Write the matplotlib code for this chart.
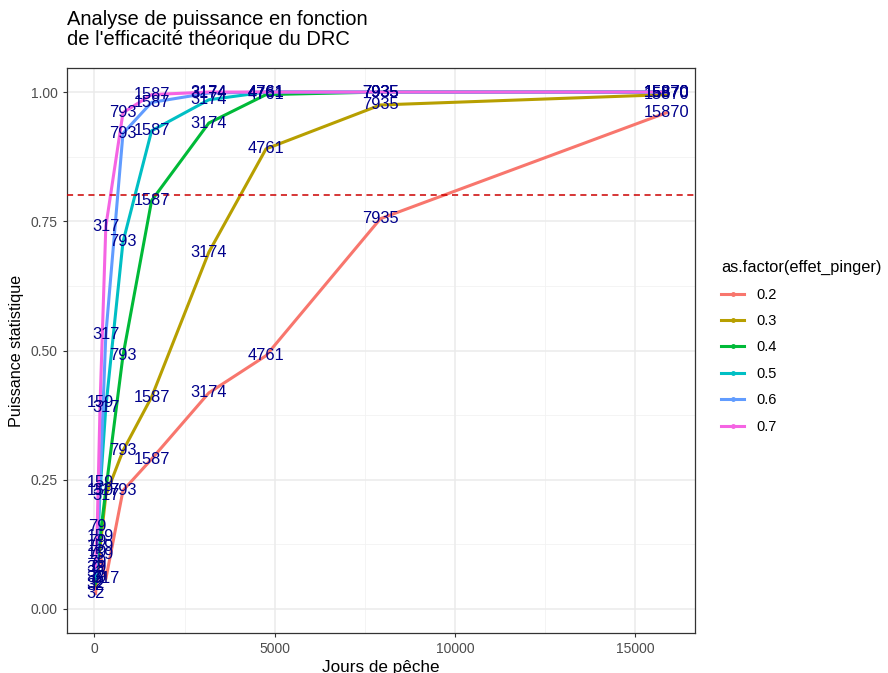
import matplotlib
matplotlib.use("Agg")
import matplotlib.pyplot as plt

# =========================================================
# DATA
# =========================================================

jours = [32, 79, 159, 317, 793, 1587, 3174, 4761, 7935, 15870]

effets = ["0.2", "0.3", "0.4", "0.5", "0.6", "0.7"]

puissance_02 = [0.030, 0.060, 0.105, 0.058, 0.229, 0.290, 0.418, 0.490, 0.755, 0.960]
puissance_03 = [0.045, 0.080, 0.120, 0.220, 0.306, 0.410, 0.690, 0.890, 0.975, 0.995]
puissance_04 = [0.050, 0.090, 0.140, 0.230, 0.490, 0.790, 0.940, 0.995, 1.000, 1.000]
puissance_05 = [0.060, 0.110, 0.230, 0.390, 0.710, 0.925, 0.985, 1.000, 1.000, 1.000]
puissance_06 = [0.070, 0.130, 0.245, 0.530, 0.920, 0.980, 0.998, 1.000, 1.000, 1.000]
puissance_07 = [0.080, 0.160, 0.400, 0.740, 0.960, 0.995, 1.000, 1.000, 1.000, 1.000]

series = [puissance_02, puissance_03, puissance_04,
          puissance_05, puissance_06, puissance_07]

couleurs = ["#F8766D", "#B79F00", "#00BA38", "#00BFC4", "#619CFF", "#F564E3"]

seuil = 0.8

# =========================================================
# FIGURE
# =========================================================

plt.rcParams["font.family"] = ["Liberation Sans", "DejaVu Sans"]

fig = plt.figure(figsize=(8.88, 6.73), dpi=100)
ax = fig.add_axes([67 / 888, 40 / 673, 628 / 888, 565 / 673])

# grid
for v in [2500, 7500, 12500]:
    ax.axvline(v, color="#F2F2F2", lw=0.6, zorder=0)
for v in [0.125, 0.375, 0.625, 0.875]:
    ax.axhline(v, color="#F2F2F2", lw=0.6, zorder=0)
for v in [0, 5000, 10000, 15000]:
    ax.axvline(v, color="#EBEBEB", lw=1.1, zorder=0)
for v in [0, 0.25, 0.5, 0.75, 1.0]:
    ax.axhline(v, color="#EBEBEB", lw=1.1, zorder=0)

for y, col, lab in zip(series, couleurs, effets):
    ax.plot(jours, y, color=col, lw=2.2, label=lab, zorder=2)

ax.axhline(seuil, color="#CC0000", lw=1.1, ls=(0, (4, 3)), zorder=3)

for y in series:
    for xi, yi in zip(jours, y):
        ax.text(xi, yi, str(xi), color="#00008B", fontsize=11.8,
                ha="center", va="center", zorder=4)

ax.set_xlim(-760, 16662)
ax.set_ylim(-0.0465, 1.0465)

ax.set_xticks([0, 5000, 10000, 15000])
ax.set_xticklabels(["0", "5000", "10000", "15000"])
ax.set_yticks([0, 0.25, 0.5, 0.75, 1.0])
ax.set_yticklabels(["0.00", "0.25", "0.50", "0.75", "1.00"])
ax.tick_params(colors="#333333", labelcolor="#4D4D4D", labelsize=10,
               length=3, width=0.8)

for s in ax.spines.values():
    s.set_color("#333333")
    s.set_linewidth(0.9)

ax.set_xlabel("Jours de pêche", fontsize=12.3, labelpad=3)
ax.set_ylabel("Puissance statistique", fontsize=11.6, labelpad=5)

fig.text(67 / 888, 1 - 10 / 673,
         "Analyse de puissance en fonction\nde l'efficacité théorique du DRC",
         fontsize=14.5, ha="left", va="top", linespacing=1.05)

# legend
handles = []
for col, lab in zip(couleurs, effets):
    h, = ax.plot([], [], color=col, lw=2.2, marker="o", markersize=2.5,
                 label=lab)
    handles.append(h)
leg = fig.legend(handles=handles, labels=effets,
                 title="as.factor(effet_pinger)",
                 loc="upper left", bbox_to_anchor=(708 / 888, 1 - 247 / 673),
                 frameon=False, fontsize=10.5, title_fontsize=11.8,
                 handlelength=1.6, labelspacing=0.85, handletextpad=0.8,
                 alignment="left")

fig.savefig("out.png", dpi=100)
